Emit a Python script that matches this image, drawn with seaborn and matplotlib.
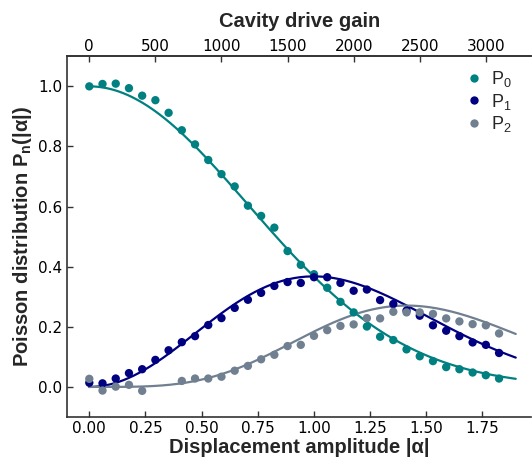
import numpy as np
import pandas as pd
import matplotlib
matplotlib.use("Agg")
import matplotlib.pyplot as plt
import seaborn as sns
from math import factorial

# ---- data ----
gain = [0, 100, 200, 300, 400, 500, 600, 700, 800, 900, 1000, 1100, 1200, 1300, 1400, 1500,
        1600, 1700, 1800, 1900, 2000, 2100, 2200, 2300, 2400, 2500, 2600, 2700, 2800, 2900, 3000, 3100]
p0 = [1.000, 1.008, 1.009, 0.994, 0.969, 0.954, 0.912, 0.854, 0.807, 0.755, 0.708, 0.667, 0.603,
      0.569, 0.530, 0.452, 0.406, 0.375, 0.330, 0.283, 0.248, 0.201, 0.167, 0.156, 0.125, 0.102,
      0.086, 0.066, 0.059, 0.048, 0.039, 0.028]
p1 = [0.014, 0.012, 0.028, 0.046, 0.059, 0.090, 0.122, 0.149, 0.169, 0.206, 0.229, 0.263, 0.290,
      0.313, 0.336, 0.349, 0.346, 0.365, 0.365, 0.346, 0.320, 0.324, 0.289, 0.276, 0.254, 0.237,
      0.205, 0.187, 0.169, 0.148, 0.140, 0.113]
p2 = [0.027, -0.012, 0.001, 0.007, -0.013, np.nan, np.nan, 0.020, 0.028, 0.028, 0.034, 0.054, 0.070,
      0.092, 0.107, 0.136, 0.140, 0.170, 0.189, 0.203, 0.208, 0.229, 0.228, 0.250, 0.248, 0.248,
      0.243, 0.228, 0.218, 0.209, 0.205, 0.178]
gain_per_alpha = 1698.0          # cavity drive gain per unit |alpha|
series = ["P0", "P1", "P2"]
labels = [r"$\mathregular{P_0}$", r"$\mathregular{P_1}$", r"$\mathregular{P_2}$"]
colors = ["#008080", "#000080", "#708090"]
gain_ticks = [0, 500, 1000, 1500, 2000, 2500, 3000]
alpha_ticks = [0.00, 0.25, 0.50, 0.75, 1.00, 1.25, 1.50, 1.75]
y_ticks = [0.0, 0.2, 0.4, 0.6, 0.8, 1.0]

# ---- tables ----
alpha = np.array(gain) / gain_per_alpha
meas = pd.DataFrame({"alpha": np.tile(alpha, 3),
                     "P": np.concatenate([p0, p1, p2]),
                     "n": np.repeat(series, len(gain))})
a_fit = np.linspace(0, 1.9, 300)
fit = pd.DataFrame({"alpha": np.tile(a_fit, 3),
                    "P": np.concatenate([a_fit ** (2 * k) * np.exp(-a_fit ** 2) / factorial(k) for k in range(3)]),
                    "n": np.repeat(series, len(a_fit))})

# ---- style ----
sns.set_style("ticks")
plt.rcParams["font.family"] = ["DejaVu Sans"]
plt.rcParams["mathtext.fontset"] = "custom"
plt.rcParams["mathtext.rm"] = "Liberation Sans"
plt.rcParams["mathtext.bf"] = "Liberation Sans:bold"
plt.rcParams["axes.edgecolor"] = "#333333"
plt.rcParams["xtick.color"] = "#333333"
plt.rcParams["ytick.color"] = "#333333"
plt.rcParams["xtick.labelcolor"] = "black"
plt.rcParams["ytick.labelcolor"] = "black"

fig = plt.figure(figsize=(5.32, 4.59), dpi=100)
ax = fig.add_axes([67.3 / 532, 1 - 417 / 459, (531 - 67.3) / 532, (417 - 56.3) / 459])

pal = dict(zip(series, colors))
sns.lineplot(data=fit, x="alpha", y="P", hue="n", palette=pal, lw=1.6, legend=False, ax=ax)
sns.scatterplot(data=meas, x="alpha", y="P", hue="n", palette=pal, s=36, edgecolor="none",
                ax=ax, zorder=3)

ax.set_xlim(-0.098, 1.968)
ax.set_ylim(-0.1, 1.1)
ax.set_xticks(alpha_ticks)
ax.set_yticks(y_ticks)
ax.tick_params(direction="in", length=4, width=1, labelsize=11)
ax.tick_params(axis="x", pad=3)
ax.tick_params(axis="y", pad=3.5)
ax.spines["right"].set_visible(False)
ax.spines["top"].set_visible(True)
for s in ax.spines.values():
    s.set_linewidth(1.2)

ax.set_xlabel("Displacement amplitude |α|", family="Liberation Sans", weight="bold", fontsize=14.5, labelpad=1)
ax.set_ylabel(r"Poisson distribution $\mathbf{P_n(|\alpha|)}$", family="Liberation Sans",
              weight="bold", fontsize=14.5, labelpad=3)

sec = ax.secondary_xaxis("top", functions=(lambda a: a * gain_per_alpha, lambda g: g / gain_per_alpha))
sec.set_xticks(gain_ticks)
sec.tick_params(direction="in", length=4, width=1, labelsize=11, pad=2)
sec.spines["top"].set_linewidth(1.2)
sec.set_xlabel("Cavity drive gain", family="Liberation Sans", weight="bold", fontsize=14.5, labelpad=8)

h, _ = ax.get_legend_handles_labels()
ax.legend(h, labels, loc="upper right", bbox_to_anchor=(0.985, 1.0), frameon=False,
          prop={"family": "Liberation Sans", "size": 13}, handletextpad=0.3,
          labelspacing=0.15, handlelength=1.2, borderaxespad=0.3)

fig.savefig("out.png", dpi=100)
